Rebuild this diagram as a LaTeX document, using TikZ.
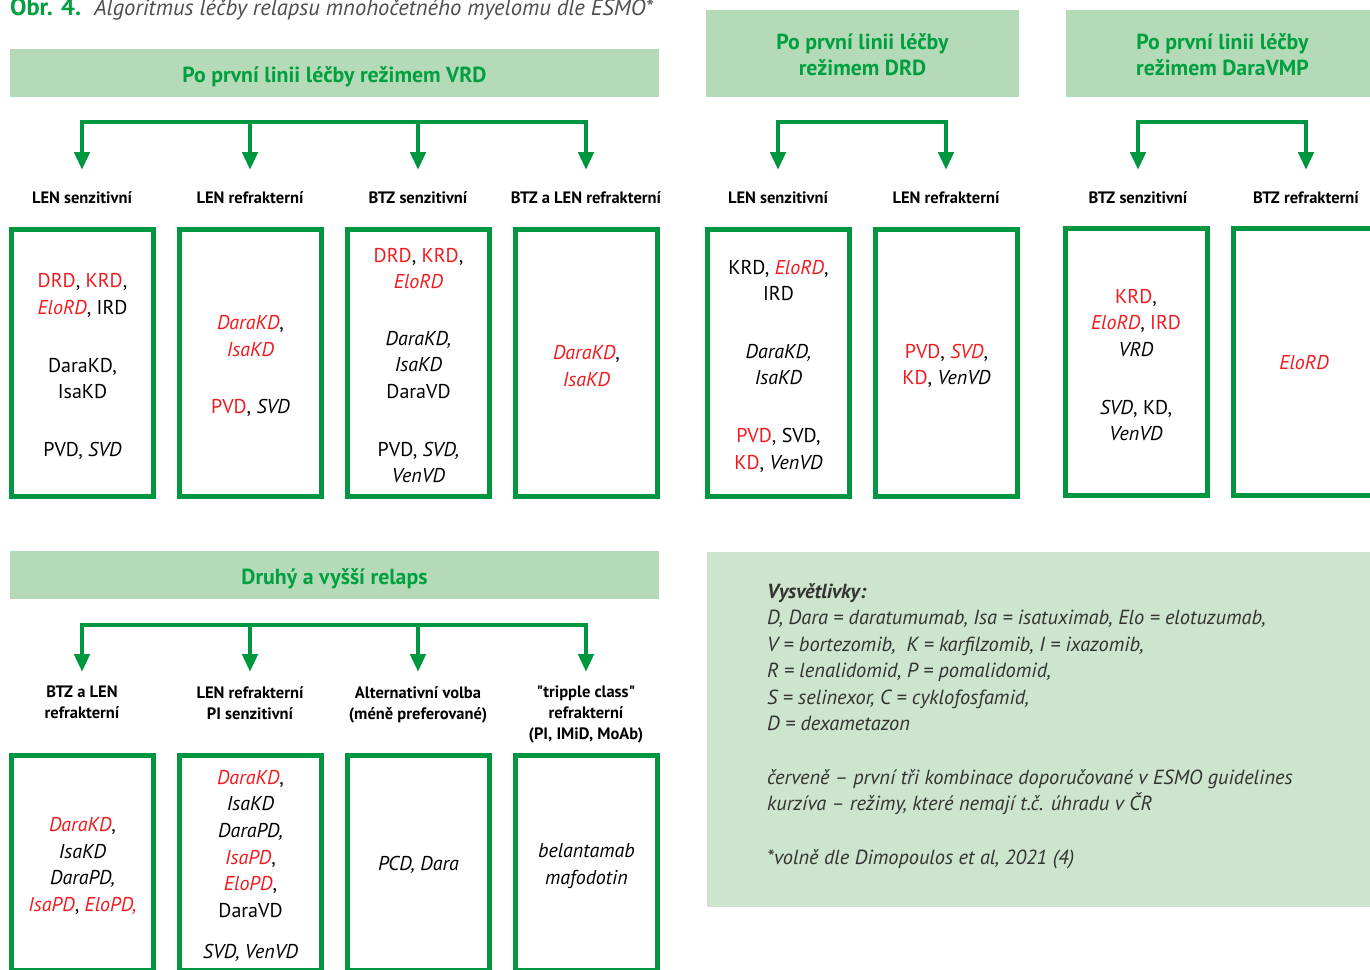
\documentclass[tikz,border=0pt]{standalone}
\usepackage{fontspec}
\setmainfont{PT Sans}
\usetikzlibrary{arrows.meta}
\definecolor{gline}{HTML}{00963F}
\definecolor{hfill}{HTML}{B5DAB8}
\definecolor{htext}{HTML}{00A040}
\definecolor{lfill}{HTML}{CDE4CD}
\definecolor{rd}{HTML}{F21A1F}
\definecolor{ttl}{HTML}{4D4D4D}
\definecolor{legtxt}{HTML}{333333}
\newcommand{\R}[1]{\textcolor{rd}{#1}}
\newcommand{\RI}[1]{\textcolor{rd}{\textit{#1}}}
\newcommand{\dn}[1]{\raisebox{-4pt}[15pt][5pt]{#1}}
\begin{document}
\begin{tikzpicture}[x=1pt,y=-1pt,
 hdr/.style={fill=hfill, text=htext, font=\bfseries\fontsize{21.8}{26}\selectfont, align=center, inner sep=0},
 box/.style={draw=gline, line width=5pt, minimum width=142pt, minimum height=267pt, inner sep=0},
 lowbox/.style={box, minimum height=215pt},
 btxt/.style={align=center, inner sep=0, font=\fontsize{20}{26.6}\selectfont},
 lab/.style={font=\bfseries\fontsize{16.5}{21}\selectfont, align=center, anchor=north, inner sep=0,
   execute at begin node={\rule{0pt}{15pt}}},
 bar/.style={draw=gline, line width=4.5pt, line cap=rect},
 arr/.style={draw=gline, line width=4.5pt, -{Triangle[width=15pt,length=18pt]}, shorten >=18pt},
 arrlow/.style={arr, shorten >=14pt},
]
\useasboundingbox (0,0) rectangle (1370,969);
\clip (0,0) rectangle (1370,969);

% title
\node[anchor=base west, inner sep=0, font=\fontsize{22.6}{28}\selectfont] (title) at (10,15)
 {\textcolor{htext}{\fontsize{24.5}{28}\selectfont\bfseries Obr. 4.}\hspace{13pt}\textcolor{ttl}{\itshape Algoritmus léčby relapsu mnohočetného myelomu dle ESMO*}};

% headers
\node[hdr, minimum width=649pt, minimum height=48pt] (h1) at (334.5,73) {\dn{Po první linii léčby režimem VRD}};
\node[hdr, minimum width=313pt, minimum height=87pt] (h2) at (862.5,53.5) {\dn{Po první linii léčby}\\\dn{režimem DRD}};
\node[hdr, minimum width=313pt, minimum height=87pt] (h3) at (1222.5,53.5) {\dn{Po první linii léčby}\\\dn{režimem DaraVMP}};
\node[hdr, minimum width=649pt, minimum height=48pt] (h4) at (334.5,575) {\dn{Druhý a vyšší relaps}};

% labels top
\node[lab] (l1) at (82,188) {LEN senzitivní};
\node[lab] (l2) at (250,188) {LEN refrakterní};
\node[lab] (l3) at (418,188) {BTZ senzitivní};
\node[lab] (l4) at (586,188) {BTZ a LEN refrakterní};
\node[lab] (l5) at (778,188) {LEN senzitivní};
\node[lab] (l6) at (946,188) {LEN refrakterní};
\node[lab] (l7) at (1138,188) {BTZ senzitivní};
\node[lab] (l8) at (1306,188) {BTZ refrakterní};
% labels bottom
\node[lab] (m1) at (82,686) {BTZ a LEN\\refrakterní};
\node[lab] (m2) at (250,686) {LEN refrakterní\\PI senzitivní};
\node[lab] (m3) at (418,686) {Alternativní volba\\(méně preferované)};
\node[lab] (m4) at (586,686) {\textquotedbl tripple class\textquotedbl\\refrakterní\\(PI, IMiD, MoAb)};

% connectors
\foreach \n/\x in {1/82,2/250,3/418,4/586,5/778,6/946,7/1138,8/1306}
  \coordinate (t\n) at (\x,122);
\foreach \n/\x in {1/82,2/250,3/418,4/586}
  \coordinate (s\n) at (\x,625);
\draw[bar] (t1) -- (t4);
\draw[bar] (t5) -- (t6);
\draw[bar] (t7) -- (t8);
\draw[bar] (s1) -- (s4);
\foreach \n in {1,...,8} \draw[arr] (t\n) -- (l\n.north);
\foreach \n in {1,...,4} \draw[arrlow] (s\n) -- (m\n.north);

% boxes top
\node[box] (b1) at (82.5,363) {};
\node[box] (b2) at (250.5,363) {};
\node[box] (b3) at (418.5,363) {};
\node[box] (b4) at (586.5,363) {};
\node[box] (b5) at (778.5,363) {};
\node[box] (b6) at (946.5,363) {};
\node[box] (b7) at (1136,362) {};
\node[box] (b8) at (1304,362) {};
\node[btxt] (bt1) at ([yshift=-3.5pt]b1.center) {\R{DRD}, \R{KRD},\\ \RI{EloRD}, IRD\\[31pt] DaraKD,\\ IsaKD\\[31pt] PVD, \textit{SVD}};
\node[btxt] (bt2) at ([yshift=-3pt]b2.center) {\RI{DaraKD},\\ \RI{IsaKD}\\[31pt] \R{PVD}, \textit{SVD}};
\node[btxt] (bt3) at ([yshift=-2.5pt]b3.center) {\R{DRD}, \R{KRD},\\ \RI{EloRD}\\[30pt] \textit{DaraKD,}\\ \textit{IsaKD}\\ DaraVD\\[31pt] PVD, \textit{SVD,}\\ \textit{VenVD}};
\node[btxt] (bt4) at ([yshift=-3pt]b4.center) {\RI{DaraKD},\\ \RI{IsaKD}};
\node[btxt] (bt5) at ([yshift=-3pt]b5.center) {KRD, \RI{EloRD},\\ IRD\\[31pt] \textit{DaraKD,}\\ \textit{IsaKD}\\[31pt] \R{PVD}, SVD,\\ \R{KD}, \textit{VenVD}};
\node[btxt] (bt6) at ([yshift=-3pt]b6.center) {\R{PVD}, \RI{SVD},\\ \R{KD}, \textit{VenVD}};
\node[btxt] (bt7) at ([yshift=-3pt]b7.center) {\R{KRD},\\ \RI{EloRD}, \R{IRD}\\ \textit{VRD}\\[31pt] \textit{SVD}, KD,\\ \textit{VenVD}};
\node[btxt] (bt8) at ([yshift=-1pt]b8.center) {\RI{EloRD}};

% boxes bottom
\node[lowbox] (c1) at (82.5,863) {};
\node[lowbox] (c2) at (250.5,863) {};
\node[lowbox] (c3) at (418.5,863) {};
\node[lowbox] (c4) at (586.5,863) {};
\node[btxt] (ct1) at ([yshift=-3pt]c1.center) {\RI{DaraKD},\\ \textit{IsaKD}\\ \textit{DaraPD,}\\ \RI{IsaPD}, \RI{EloPD,}};
\node[btxt] (ct2) at ([yshift=-3pt]c2.center) {\RI{DaraKD},\\ \textit{IsaKD}\\ \textit{DaraPD,}\\ \RI{IsaPD},\\ \RI{EloPD},\\ DaraVD\\[15pt] \textit{SVD, VenVD}};
\node[btxt] (ct3) at ([yshift=-2pt]c3.center) {\textit{PCD, Dara}};
\node[btxt] (ct4) at ([yshift=-3pt]c4.center) {\textit{belantamab}\\ \textit{mafodotin}};

% legend
\node[fill=lfill, minimum width=673pt, minimum height=355pt, inner sep=0] (leg) at (1043.5,729.5) {};
\node[anchor=north west, inner sep=0, align=left, text=legtxt, font=\itshape\fontsize{20.4}{26.5}\selectfont,
  execute at begin node={\rule{0pt}{15pt}}] (legt) at (767,583)
 {\textbf{Vysvětlivky:}\\
  D, Dara = daratumumab, Isa = isatuximab, Elo = elotuzumab,\\
  V = bortezomib,\ \ K = karfilzomib, I = ixazomib,\\
  R = lenalidomid, P = pomalidomid,\\
  S = selinexor, C = cyklofosfamid,\\
  D = dexametazon\\[27pt]
  červeně – první tři kombinace doporučované v ESMO guidelines\\
  kurzíva – režimy, které nemají t.č. úhradu v ČR\\[27pt]
  *volně dle Dimopoulos et al, 2021 (4)};
\end{tikzpicture}
\end{document}
